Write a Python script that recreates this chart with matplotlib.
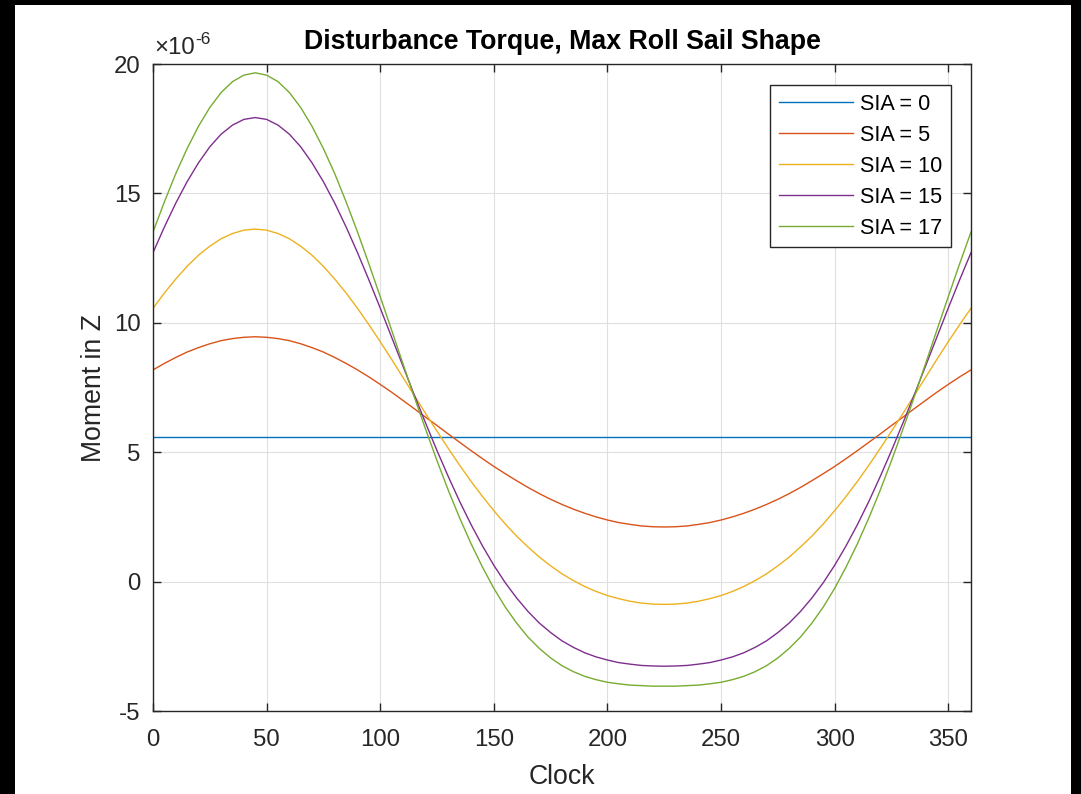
#!/usr/bin/env python3

import numpy as np
import matplotlib
matplotlib.use("Agg")
import matplotlib.pyplot as plt
from matplotlib.patches import Rectangle

plt.rcParams['font.family'] = ['Liberation Sans', 'DejaVu Sans']
plt.rcParams['axes.unicode_minus'] = False

# clock angle (deg) and moment in Z (x 1e-6)
clock = list(range(0, 361, 5))
sia0 = [5.59] * len(clock)
sia5 = [8.18, 8.43, 8.66, 8.87, 9.04, 9.19, 9.31, 9.39, 9.44, 9.46,
        9.44, 9.39, 9.31, 9.19, 9.04, 8.87, 8.66, 8.43, 8.18, 7.91,
        7.62, 7.32, 7.00, 6.68, 6.35, 6.03, 5.70, 5.38, 5.06, 4.75,
        4.45, 4.17, 3.90, 3.64, 3.40, 3.18, 2.98, 2.80, 2.64, 2.50,
        2.38, 2.28, 2.21, 2.15, 2.12, 2.11,
        2.12, 2.15, 2.21, 2.28, 2.38, 2.50, 2.64, 2.80, 2.98, 3.18,
        3.40, 3.64, 3.90, 4.17, 4.45, 4.75, 5.06, 5.38, 5.70, 6.03,
        6.35, 6.68, 7.00, 7.32, 7.62, 7.91, 8.18]
sia10 = [10.56, 11.15, 11.69, 12.18, 12.61, 12.96, 13.25, 13.45, 13.58, 13.62,
         13.58, 13.45, 13.25, 12.96, 12.61, 12.18, 11.69, 11.15, 10.56, 9.93,
         9.27, 8.59, 7.89, 7.19, 6.49, 5.81, 5.14, 4.49, 3.87, 3.29,
         2.74, 2.23, 1.76, 1.34, 0.95, 0.61, 0.30, 0.04, -0.19, -0.38,
         -0.54, -0.66, -0.76, -0.83, -0.87, -0.88,
         -0.87, -0.83, -0.76, -0.66, -0.54, -0.38, -0.19, 0.04, 0.30, 0.61,
         0.95, 1.34, 1.76, 2.23, 2.74, 3.29, 3.87, 4.49, 5.14, 5.81,
         6.49, 7.19, 7.89, 8.59, 9.27, 9.93, 10.56]
sia15 = [12.71, 13.70, 14.62, 15.45, 16.18, 16.80, 17.29, 17.64, 17.86, 17.93,
         17.86, 17.64, 17.29, 16.80, 16.18, 15.45, 14.62, 13.70, 12.71, 11.66,
         10.57, 9.45, 8.33, 7.21, 6.12, 5.06, 4.05, 3.09, 2.20, 1.38,
         0.63, -0.04, -0.63, -1.15, -1.60, -1.97, -2.29, -2.54, -2.75, -2.91,
         -3.03, -3.13, -3.19, -3.24, -3.26, -3.27,
         -3.26, -3.24, -3.19, -3.13, -3.03, -2.91, -2.75, -2.54, -2.29, -1.97,
         -1.60, -1.15, -0.63, -0.04, 0.63, 1.38, 2.20, 3.09, 4.05, 5.06,
         6.12, 7.21, 8.33, 9.45, 10.57, 11.66, 12.71]
sia17 = [13.51, 14.67, 15.76, 16.73, 17.59, 18.32, 18.90, 19.32, 19.57, 19.66,
         19.57, 19.32, 18.90, 18.32, 17.59, 16.73, 15.76, 14.67, 13.51, 12.28,
         11.01, 9.72, 8.42, 7.13, 5.88, 4.67, 3.52, 2.45, 1.46, 0.56,
         -0.26, -0.98, -1.60, -2.14, -2.58, -2.95, -3.25, -3.48, -3.66, -3.79,
         -3.89, -3.95, -4.00, -4.02, -4.04, -4.04,
         -4.04, -4.02, -4.00, -3.95, -3.89, -3.79, -3.66, -3.48, -3.25, -2.95,
         -2.58, -2.14, -1.60, -0.98, -0.26, 0.56, 1.46, 2.45, 3.52, 4.67,
         5.88, 7.13, 8.42, 9.72, 11.01, 12.28, 13.51]

series = [sia0, sia5, sia10, sia15, sia17]
labels = ["SIA = 0", "SIA = 5", "SIA = 10", "SIA = 15", "SIA = 17"]
colors = ["#0072BD", "#D95319", "#EDB120", "#7E2F8E", "#77AC30"]

W, H = 1081, 794
fig = plt.figure(figsize=(W / 100, H / 100), dpi=100)
fig.patch.set_facecolor("black")
fig.add_artist(Rectangle((15 / W, 0), 1056 / W, 789 / H, transform=fig.transFigure,
                         facecolor="white", edgecolor="none", zorder=-1))

ax = fig.add_axes([153 / W, (H - 711) / H, 818 / W, 647 / H])
for ys, lab, c in zip(series, labels, colors):
    ax.plot(clock, ys, color=c, lw=1.0, label=lab)

axcol = "#262626"
ax.set_xlim(0, 360)
ax.set_ylim(-5, 20)
ax.set_xticks(range(0, 351, 50))
ax.set_yticks(range(-5, 21, 5))
ax.grid(True, color="#DFDFDF", lw=0.8)
ax.set_axisbelow(True)
for s in ax.spines.values():
    s.set_color(axcol)
    s.set_linewidth(1.0)
ax.tick_params(direction="in", length=6, width=1.0, color=axcol, labelcolor=axcol,
               labelsize=17.3, top=True, right=True)
ax.tick_params(axis="x", pad=13)
ax.tick_params(axis="y", pad=9)

ax.set_title("Disturbance Torque, Max Roll Sail Shape", fontsize=19.3, fontweight="bold",
             color="black", pad=11)
ax.set_xlabel("Clock", fontsize=19.2, color=axcol, labelpad=9)
ax.set_ylabel("Moment in Z", fontsize=19.2, color=axcol, labelpad=5)

# exponent label, MATLAB style
ax.text(0.002, 1.008, "\u00d710", transform=ax.transAxes, ha="left", va="bottom",
        fontsize=17.3, color=axcol)
ax.annotate("-6", xy=(0.002, 1.008), xycoords="axes fraction", xytext=(41, 12),
            textcoords="offset pixels", ha="left", va="bottom", fontsize=12.5, color=axcol)

leg = ax.legend(loc="upper right", bbox_to_anchor=(0.9756, 0.9675), borderaxespad=0,
                fontsize=15.6, fancybox=False, framealpha=1, edgecolor=axcol,
                handlelength=3.4, handletextpad=0.35, labelspacing=0.46, borderpad=0.4)
leg.get_frame().set_linewidth(1.0)
for t in leg.get_texts():
    t.set_color("black")

fig.savefig("out.png", dpi=100, facecolor=fig.get_facecolor())
